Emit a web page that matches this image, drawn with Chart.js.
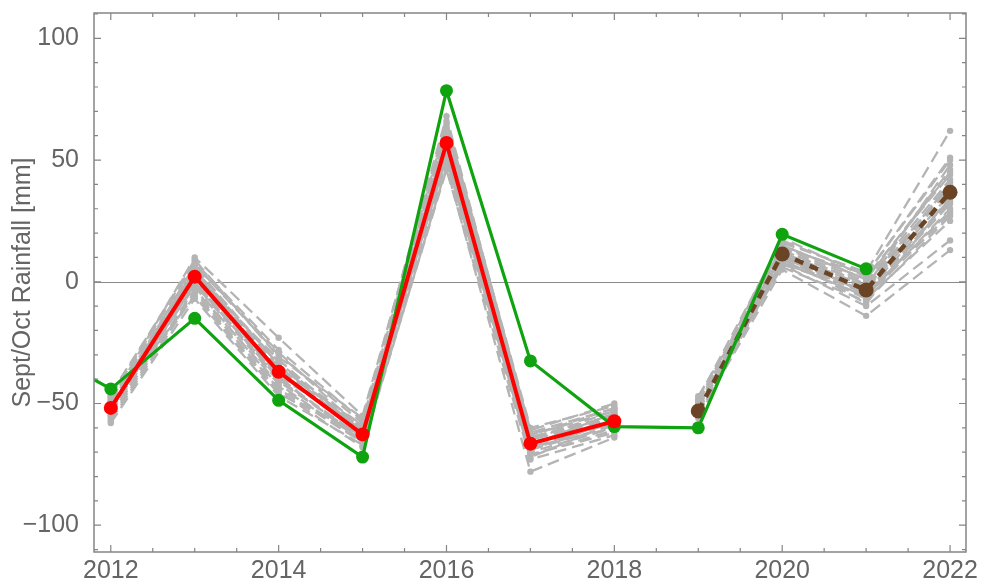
<!DOCTYPE html>
<html>
<head>
<meta charset="utf-8">
<script src="https://cdn.jsdelivr.net/npm/chart.js@4/dist/chart.umd.min.js"></script>
<style>
  html, body { margin: 0; padding: 0; background: #ffffff; }
  #wrap { width: 981px; height: 581px; }
</style>
</head>
<body>
<div id="wrap"><canvas id="chart" width="981" height="581"></canvas></div>
<script>
// Observed Sept/Oct rainfall anomaly (mm)
const obsYears = [2011, 2012, 2013, 2014, 2015, 2016, 2017, 2018, 2019, 2020, 2021];
const obsValues = [-25, -44, -15, -48.7, -72, 78.5, -32.5, -59.5, -60, 19.5, 5.3];

// Hindcast ensemble mean, 2012-2018
const hindYears = [2012, 2013, 2014, 2015, 2016, 2017, 2018];
const hindMean = [-51.8, 2.1, -37, -62.7, 57, -66.5, -57.3];

// Forecast ensemble mean, 2019-2022
const foreYears = [2019, 2020, 2021, 2022];
const foreMean = [-53.1, 11.4, -3.4, 36.8];

// Individual hindcast members (one row per member, 2012-2018)
const hindMembers = [
  [-50, 4, -35, -60, 60, -64, -55],
  [-53, 0, -40, -65, 55, -68, -58],
  [-47, 7, -30, -58, 62, -62, -52],
  [-55, -3, -42, -66, 50, -70, -60],
  [-49, 10, -23, -55, 66, -61, -50],
  [-58, -7, -47, -67, 46, -73, -63],
  [-51, 3, -33, -62, 58, -65, -56],
  [-52, 1, -38, -61, 57, -67, -54],
  [-48, 5, -36, -59, 63, -63, -53],
  [-54, -1, -41, -64, 53, -69, -59],
  [-46, 8, -28, -57, 65, -60, -51],
  [-56, -4, -44, -66, 49, -71, -61],
  [-50, 6, -34, -63, 59, -66, -57],
  [-53, 2, -39, -60, 56, -64, -55],
  [-57, -5, -45, -68, 47, -78, -64],
  [-49, 3, -32, -62, 61, -62, -56],
  [-51, -2, -43, -65, 52, -72, -58],
  [-52, 4, -37, -61, 60, -67, -54],
  [-47, 9, -31, -56, 68, -63, -52],
  [-55, 0, -40, -64, 54, -68, -60],
  [-50, -6, -46, -63, 51, -71, -62],
  [-54, 5, -34, -59, 58, -65, -53],
  [-48, -1, -39, -66, 55, -69, -57],
  [-52, 7, -29, -61, 64, -64, -55]
];

// Individual forecast members (one row per member, 2019-2022)
const foreMembers = [
  [-52, 12, -2, 38],
  [-50, 15, 1, 45],
  [-55, 8, -6, 30],
  [-48, 17, 3, 50],
  [-54, 10, -4, 34],
  [-53, 13, -1, 40],
  [-51, 6, -8, 27],
  [-56, 9, -5, 32],
  [-49, 16, 4, 62],
  [-53, 11, -3, 36],
  [-52, 14, 0, 42],
  [-54, 7, -10, 17],
  [-50, 12, -2, 48],
  [-55, 5, -14, 13],
  [-51, 18, 2, 44],
  [-53, 9, -7, 25],
  [-52, 13, -1, 39],
  [-47, 10, -4, 33],
  [-54, 15, 1, 46],
  [-50, 8, -6, 28],
  [-51, 11, -9, 35],
  [-53, 14, 3, 51],
  [-49, 7, -3, 41],
  [-55, 12, -5, 29]
];

// Axis ticks
const xTicks = [2012, 2014, 2016, 2018, 2020, 2022];
const yTicks = [-100, -50, 0, 50, 100];

const pts = (xs, ys) => xs.map((x, i) => ({ x: x, y: ys[i] }));

const GRAY = '#b4b4b4';
const datasets = [];

datasets.push({
  label: 'Hindcast mean',
  data: pts(hindYears, hindMean),
  borderColor: '#ff0000', backgroundColor: '#ff0000',
  borderWidth: 4, pointRadius: 7, pointBorderWidth: 0,
  order: 0
});
datasets.push({
  label: 'Observed',
  data: pts(obsYears, obsValues),
  borderColor: '#10a310', backgroundColor: '#10a310',
  borderWidth: 3.2, pointRadius: 6.5, pointBorderWidth: 0,
  order: 1
});
datasets.push({
  label: 'Forecast mean',
  data: pts(foreYears, foreMean),
  borderColor: '#6a4424', backgroundColor: '#6a4424',
  borderWidth: 4.5, borderDash: [9, 7], pointRadius: 7.5, pointBorderWidth: 0,
  order: 2
});
hindMembers.forEach((row, k) => datasets.push({
  label: 'Hindcast member ' + (k + 1),
  data: pts(hindYears, row),
  borderColor: GRAY, backgroundColor: GRAY,
  borderWidth: 2.3, borderDash: [12, 6], pointRadius: 3.2, pointBorderWidth: 0,
  order: 3
}));
foreMembers.forEach((row, k) => datasets.push({
  label: 'Forecast member ' + (k + 1),
  data: pts(foreYears, row),
  borderColor: GRAY, backgroundColor: GRAY,
  borderWidth: 2.3, borderDash: [12, 6], pointRadius: 3.2, pointBorderWidth: 0,
  order: 3
}));

const AXIS_GRAY = '#656565';
const FRAME_GRAY = '#858585';

// Mathematica-style frame with inward ticks, plus the zero reference line
const framePlugin = {
  id: 'frame',
  beforeDatasetsDraw(chart) {
    const { ctx, chartArea: a, scales: { y } } = chart;
    const y0 = Math.round(y.getPixelForValue(0)) + 0.5;
    ctx.save();
    ctx.strokeStyle = '#8a8a8a';
    ctx.lineWidth = 1;
    ctx.beginPath();
    ctx.moveTo(a.left, y0);
    ctx.lineTo(a.right, y0);
    ctx.stroke();
    ctx.restore();
  },
  afterDatasetsDraw(chart) {
    const { ctx, chartArea: a, scales: { x, y } } = chart;
    ctx.save();
    ctx.strokeStyle = FRAME_GRAY;
    ctx.lineWidth = 1.5;
    ctx.strokeRect(a.left, a.top, a.right - a.left, a.bottom - a.top);
    ctx.lineWidth = 1.2;
    ctx.beginPath();
    for (let v = 2012; v <= 2022.001; v += 0.5) {
      const px = x.getPixelForValue(v);
      const len = (Math.abs(v % 2) < 1e-6) ? 7 : 4;
      ctx.moveTo(px, a.bottom); ctx.lineTo(px, a.bottom - len);
      ctx.moveTo(px, a.top); ctx.lineTo(px, a.top + len);
    }
    for (let v = -110; v <= 110; v += 10) {
      const py = y.getPixelForValue(v);
      const len = (v % 50 === 0) ? 7 : 4;
      ctx.moveTo(a.left, py); ctx.lineTo(a.left + len, py);
      ctx.moveTo(a.right, py); ctx.lineTo(a.right - len, py);
    }
    ctx.stroke();
    ctx.restore();
  }
};

new Chart(document.getElementById('chart'), {
  type: 'line',
  data: { datasets: datasets },
  options: {
    responsive: false,
    animation: false,
    events: [],
    layout: { padding: { left: 0, right: 15, top: 13, bottom: 0 } },
    plugins: { legend: { display: false }, tooltip: { enabled: false } },
    scales: {
      x: {
        type: 'linear',
        min: 2011.8, max: 2022.19,
        afterBuildTicks: s => { s.ticks = xTicks.map(v => ({ value: v })); },
        afterFit: s => { s.height = 29; s.paddingLeft = 0; s.paddingRight = 0; },
        grid: { display: false },
        border: { display: false },
        ticks: {
          color: AXIS_GRAY,
          font: { family: 'Liberation Sans', size: 25 },
          padding: -4,
          maxRotation: 0,
          autoSkip: false,
          callback: v => String(v)
        }
      },
      y: {
        type: 'linear',
        min: -111, max: 110.4,
        afterBuildTicks: s => { s.ticks = yTicks.map(v => ({ value: v })); },
        afterFit: s => { s.width = 94; s.paddingTop = 0; s.paddingBottom = 0; },
        grid: { display: false },
        border: { display: false },
        ticks: {
          color: AXIS_GRAY,
          font: { family: 'Liberation Sans', size: 25 },
          padding: 7,
          callback: v => (v < 0 ? '\u2212' + Math.abs(v) : String(v))
        },
        title: {
          display: true,
          text: 'Sept/Oct Rainfall [mm]',
          color: AXIS_GRAY,
          font: { family: 'Liberation Sans', size: 25 },
          padding: { top: 8, bottom: 0 }
        }
      }
    }
  },
  plugins: [framePlugin]
});
</script>
</body>
</html>
